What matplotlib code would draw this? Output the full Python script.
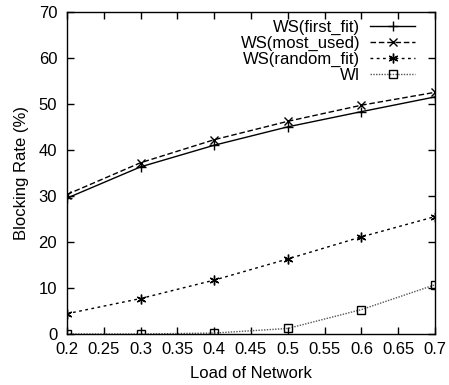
import matplotlib
matplotlib.use("Agg")
import matplotlib.pyplot as plt

plt.rcParams['font.family'] = ['Liberation Sans', 'DejaVu Sans']

load = [0.2, 0.3, 0.4, 0.5, 0.6, 0.7]
first_fit = [29.5, 36.3, 41.0, 45.0, 48.3, 51.5]
most_used = [30.3, 37.2, 42.2, 46.2, 49.7, 52.5]
random_fit = [4.4, 7.7, 11.7, 16.3, 21.1, 25.5]
wi = [0.0, 0.0, 0.2, 1.2, 5.3, 10.7]

xticks = [0.2, 0.25, 0.3, 0.35, 0.4, 0.45, 0.5, 0.55, 0.6, 0.65, 0.7]
xticklabels = ['0.2', '0.25', '0.3', '0.35', '0.4', '0.45', '0.5', '0.55', '0.6', '0.65', '0.7']
yticks = [0, 10, 20, 30, 40, 50, 60, 70]

fig = plt.figure(figsize=(4.49, 3.85), dpi=100)
ax = fig.add_axes([0.149, 0.1325, 0.82, 0.837])

ax.plot(load, first_fit, color='black', linestyle='-', linewidth=1.0,
        marker='+', markersize=7, markeredgewidth=1.0, label='WS(first_fit)')
ax.plot(load, most_used, color='black', linestyle=(0, (4, 2)), linewidth=1.0,
        marker='x', markersize=6, markeredgewidth=1.0, label='WS(most_used)')
ax.plot(load, random_fit, color='black', linestyle=(0, (2, 2.5)), linewidth=1.0,
        marker=(6, 2, 0), markersize=7, markeredgewidth=1.0, label='WS(random_fit)')
ax.plot(load, wi, color='#555555', linestyle=(0, (1, 1)), linewidth=1.0,
        marker='s', markersize=6, markerfacecolor='none', markeredgecolor='black',
        markeredgewidth=1.0, label='WI')

ax.set_xlim(0.2, 0.7)
ax.set_ylim(0, 70)
ax.set_xticks(xticks)
ax.set_xticklabels(xticklabels)
ax.set_yticks(yticks)
ax.tick_params(direction='in', top=True, right=True, length=5, width=1.0,
               labelsize=12)
ax.tick_params(axis='x', pad=6)
ax.tick_params(axis='y', pad=7)
for s in ax.spines.values():
    s.set_linewidth(1.0)

ax.set_xlabel('Load of Network', fontsize=12, labelpad=6)
ax.set_ylabel('Blocking Rate (%)', fontsize=12, labelpad=7)

ax.legend(loc='upper right', bbox_to_anchor=(0.955, 0.984), frameon=False,
          markerfirst=False, fontsize=12, handlelength=2.7, handletextpad=0.6,
          labelspacing=0.04, borderaxespad=0.0, borderpad=0.2)

fig.savefig('out.png', dpi=100)
